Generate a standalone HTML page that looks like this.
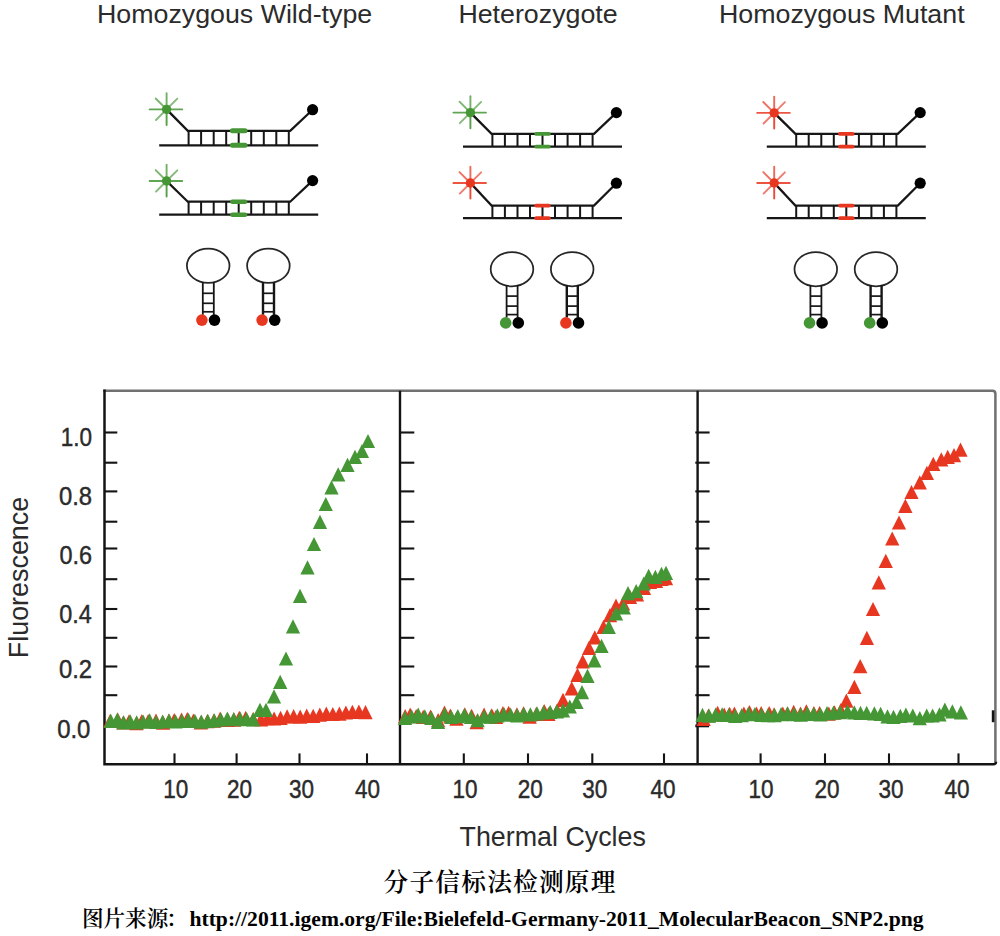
<!DOCTYPE html>
<html lang="zh">
<head>
<meta charset="utf-8">
<title>分子信标法检测原理</title>
<style>
html,body{margin:0;padding:0;background:#fff;}
body{width:1000px;height:936px;overflow:hidden;position:relative;}
svg{position:absolute;left:0;top:0;display:block;}
text{white-space:pre;}
</style>
</head>
<body>
<svg width="1000" height="936" viewBox="0 0 1000 936">
<rect width="1000" height="936" fill="#fff"/>
<g id="diagrams">
<line x1="166.6" y1="109.4" x2="182.2" y2="109.4" stroke="#459634" stroke-width="1.9" stroke-linecap="round" opacity="0.85"/>
<line x1="166.6" y1="109.4" x2="149.6" y2="109.4" stroke="#459634" stroke-width="1.9" stroke-linecap="round" opacity="0.85"/>
<line x1="166.6" y1="109.4" x2="166.6" y2="93.1" stroke="#459634" stroke-width="1.9" stroke-linecap="round" opacity="0.75"/>
<line x1="166.6" y1="109.4" x2="166.6" y2="125.0" stroke="#459634" stroke-width="1.9" stroke-linecap="round" opacity="0.9"/>
<line x1="166.6" y1="109.4" x2="177.3" y2="98.7" stroke="#459634" stroke-width="1.9" stroke-linecap="round" opacity="0.65"/>
<line x1="166.6" y1="109.4" x2="155.7" y2="98.5" stroke="#459634" stroke-width="1.9" stroke-linecap="round" opacity="0.7"/>
<line x1="166.6" y1="109.4" x2="156.0" y2="120.0" stroke="#459634" stroke-width="1.9" stroke-linecap="round" opacity="0.65"/>
<line x1="166.6" y1="109.4" x2="176.5" y2="119.3" stroke="#459634" stroke-width="1.9" stroke-linecap="round" opacity="0.65"/>
<line x1="159.2" y1="145.3" x2="318.2" y2="145.3" stroke="#161616" stroke-width="2.2"/>
<polyline points="166.6,109.4 187.8,130.8 290.2,130.8 312.6,109.7" fill="none" stroke="#161616" stroke-width="2.25" stroke-linejoin="miter"/>
<line x1="188.6" y1="130.8" x2="188.6" y2="145.3" stroke="#161616" stroke-width="2.0"/>
<line x1="201.1" y1="130.8" x2="201.1" y2="145.3" stroke="#161616" stroke-width="2.0"/>
<line x1="213.7" y1="130.8" x2="213.7" y2="145.3" stroke="#161616" stroke-width="2.0"/>
<line x1="226.2" y1="130.8" x2="226.2" y2="145.3" stroke="#161616" stroke-width="2.0"/>
<line x1="238.7" y1="130.8" x2="238.7" y2="145.3" stroke="#161616" stroke-width="2.0"/>
<line x1="251.2" y1="130.8" x2="251.2" y2="145.3" stroke="#161616" stroke-width="2.0"/>
<line x1="263.8" y1="130.8" x2="263.8" y2="145.3" stroke="#161616" stroke-width="2.0"/>
<line x1="276.3" y1="130.8" x2="276.3" y2="145.3" stroke="#161616" stroke-width="2.0"/>
<line x1="288.8" y1="130.8" x2="288.8" y2="145.3" stroke="#161616" stroke-width="2.0"/>
<line x1="232.4" y1="130.8" x2="245.0" y2="130.8" stroke="#459634" stroke-width="5.0" stroke-linecap="round"/>
<line x1="232.4" y1="145.3" x2="245.0" y2="145.3" stroke="#459634" stroke-width="5.0" stroke-linecap="round"/>
<circle cx="166.6" cy="109.4" r="4.7" fill="#459634"/>
<circle cx="312.6" cy="109.7" r="5.6" fill="#000"/>
<line x1="166.6" y1="181.0" x2="182.2" y2="181.0" stroke="#459634" stroke-width="1.9" stroke-linecap="round" opacity="0.85"/>
<line x1="166.6" y1="181.0" x2="149.6" y2="181.0" stroke="#459634" stroke-width="1.9" stroke-linecap="round" opacity="0.85"/>
<line x1="166.6" y1="181.0" x2="166.6" y2="164.7" stroke="#459634" stroke-width="1.9" stroke-linecap="round" opacity="0.75"/>
<line x1="166.6" y1="181.0" x2="166.6" y2="196.6" stroke="#459634" stroke-width="1.9" stroke-linecap="round" opacity="0.9"/>
<line x1="166.6" y1="181.0" x2="177.3" y2="170.3" stroke="#459634" stroke-width="1.9" stroke-linecap="round" opacity="0.65"/>
<line x1="166.6" y1="181.0" x2="155.7" y2="170.1" stroke="#459634" stroke-width="1.9" stroke-linecap="round" opacity="0.7"/>
<line x1="166.6" y1="181.0" x2="156.0" y2="191.6" stroke="#459634" stroke-width="1.9" stroke-linecap="round" opacity="0.65"/>
<line x1="166.6" y1="181.0" x2="176.5" y2="190.9" stroke="#459634" stroke-width="1.9" stroke-linecap="round" opacity="0.65"/>
<line x1="159.2" y1="214.7" x2="318.2" y2="214.7" stroke="#161616" stroke-width="2.2"/>
<polyline points="166.6,181.0 187.8,201.7 290.2,201.7 312.6,180.6" fill="none" stroke="#161616" stroke-width="2.25" stroke-linejoin="miter"/>
<line x1="188.6" y1="201.7" x2="188.6" y2="214.7" stroke="#161616" stroke-width="2.0"/>
<line x1="201.1" y1="201.7" x2="201.1" y2="214.7" stroke="#161616" stroke-width="2.0"/>
<line x1="213.7" y1="201.7" x2="213.7" y2="214.7" stroke="#161616" stroke-width="2.0"/>
<line x1="226.2" y1="201.7" x2="226.2" y2="214.7" stroke="#161616" stroke-width="2.0"/>
<line x1="238.7" y1="201.7" x2="238.7" y2="214.7" stroke="#161616" stroke-width="2.0"/>
<line x1="251.2" y1="201.7" x2="251.2" y2="214.7" stroke="#161616" stroke-width="2.0"/>
<line x1="263.8" y1="201.7" x2="263.8" y2="214.7" stroke="#161616" stroke-width="2.0"/>
<line x1="276.3" y1="201.7" x2="276.3" y2="214.7" stroke="#161616" stroke-width="2.0"/>
<line x1="288.8" y1="201.7" x2="288.8" y2="214.7" stroke="#161616" stroke-width="2.0"/>
<line x1="232.4" y1="201.7" x2="245.0" y2="201.7" stroke="#459634" stroke-width="4.6" stroke-linecap="round"/>
<line x1="232.4" y1="214.7" x2="245.0" y2="214.7" stroke="#459634" stroke-width="4.6" stroke-linecap="round"/>
<circle cx="166.6" cy="181.0" r="4.7" fill="#459634"/>
<circle cx="312.6" cy="180.6" r="5.6" fill="#000"/>
<ellipse cx="208.2" cy="265.8" rx="21.3" ry="17.1" fill="none" stroke="#262626" stroke-width="1.75"/>
<line x1="202.8" y1="282.3" x2="202.8" y2="314.8" stroke="#161616" stroke-width="1.8"/>
<line x1="213.8" y1="282.3" x2="213.8" y2="314.8" stroke="#161616" stroke-width="1.8"/>
<line x1="202.8" y1="293.3" x2="213.8" y2="293.3" stroke="#161616" stroke-width="1.7"/>
<line x1="202.8" y1="303.3" x2="213.8" y2="303.3" stroke="#161616" stroke-width="1.7"/>
<line x1="202.8" y1="311.8" x2="213.8" y2="311.8" stroke="#161616" stroke-width="1.7"/>
<circle cx="201.9" cy="320.1" r="5.8" fill="#e83721"/>
<circle cx="214.5" cy="320.1" r="5.8" fill="#000"/>
<ellipse cx="268.4" cy="265.8" rx="21.3" ry="17.1" fill="none" stroke="#262626" stroke-width="1.75"/>
<line x1="263.0" y1="282.3" x2="263.0" y2="314.8" stroke="#161616" stroke-width="2.4"/>
<line x1="274.0" y1="282.3" x2="274.0" y2="314.8" stroke="#161616" stroke-width="2.4"/>
<line x1="263.0" y1="293.3" x2="274.0" y2="293.3" stroke="#161616" stroke-width="1.7"/>
<line x1="263.0" y1="303.3" x2="274.0" y2="303.3" stroke="#161616" stroke-width="1.7"/>
<line x1="263.0" y1="311.8" x2="274.0" y2="311.8" stroke="#161616" stroke-width="1.7"/>
<circle cx="262.1" cy="320.1" r="5.8" fill="#e83721"/>
<circle cx="274.7" cy="320.1" r="5.8" fill="#000"/>
<line x1="470.4" y1="112.6" x2="486.0" y2="112.6" stroke="#459634" stroke-width="1.9" stroke-linecap="round" opacity="0.85"/>
<line x1="470.4" y1="112.6" x2="453.4" y2="112.6" stroke="#459634" stroke-width="1.9" stroke-linecap="round" opacity="0.85"/>
<line x1="470.4" y1="112.6" x2="470.4" y2="96.3" stroke="#459634" stroke-width="1.9" stroke-linecap="round" opacity="0.75"/>
<line x1="470.4" y1="112.6" x2="470.4" y2="128.2" stroke="#459634" stroke-width="1.9" stroke-linecap="round" opacity="0.9"/>
<line x1="470.4" y1="112.6" x2="481.1" y2="101.9" stroke="#459634" stroke-width="1.9" stroke-linecap="round" opacity="0.65"/>
<line x1="470.4" y1="112.6" x2="459.5" y2="101.7" stroke="#459634" stroke-width="1.9" stroke-linecap="round" opacity="0.7"/>
<line x1="470.4" y1="112.6" x2="459.8" y2="123.2" stroke="#459634" stroke-width="1.9" stroke-linecap="round" opacity="0.65"/>
<line x1="470.4" y1="112.6" x2="480.3" y2="122.5" stroke="#459634" stroke-width="1.9" stroke-linecap="round" opacity="0.65"/>
<line x1="463.0" y1="146.7" x2="622.0" y2="146.7" stroke="#161616" stroke-width="2.2"/>
<polyline points="470.4,112.6 491.6,133.9 594.0,133.9 616.4,112.6" fill="none" stroke="#161616" stroke-width="2.25" stroke-linejoin="miter"/>
<line x1="492.4" y1="133.9" x2="492.4" y2="146.7" stroke="#161616" stroke-width="2.0"/>
<line x1="504.9" y1="133.9" x2="504.9" y2="146.7" stroke="#161616" stroke-width="2.0"/>
<line x1="517.5" y1="133.9" x2="517.5" y2="146.7" stroke="#161616" stroke-width="2.0"/>
<line x1="530.0" y1="133.9" x2="530.0" y2="146.7" stroke="#161616" stroke-width="2.0"/>
<line x1="542.5" y1="133.9" x2="542.5" y2="146.7" stroke="#161616" stroke-width="2.0"/>
<line x1="555.0" y1="133.9" x2="555.0" y2="146.7" stroke="#161616" stroke-width="2.0"/>
<line x1="567.6" y1="133.9" x2="567.6" y2="146.7" stroke="#161616" stroke-width="2.0"/>
<line x1="580.1" y1="133.9" x2="580.1" y2="146.7" stroke="#161616" stroke-width="2.0"/>
<line x1="592.6" y1="133.9" x2="592.6" y2="146.7" stroke="#161616" stroke-width="2.0"/>
<line x1="536.2" y1="133.9" x2="548.8" y2="133.9" stroke="#459634" stroke-width="3.8" stroke-linecap="round"/>
<line x1="536.2" y1="146.7" x2="548.8" y2="146.7" stroke="#459634" stroke-width="3.8" stroke-linecap="round"/>
<circle cx="470.4" cy="112.6" r="4.7" fill="#459634"/>
<circle cx="616.4" cy="112.6" r="5.6" fill="#000"/>
<line x1="470.4" y1="183.0" x2="486.0" y2="183.0" stroke="#e83721" stroke-width="1.9" stroke-linecap="round" opacity="0.85"/>
<line x1="470.4" y1="183.0" x2="453.4" y2="183.0" stroke="#e83721" stroke-width="1.9" stroke-linecap="round" opacity="0.85"/>
<line x1="470.4" y1="183.0" x2="470.4" y2="166.7" stroke="#e83721" stroke-width="1.9" stroke-linecap="round" opacity="0.75"/>
<line x1="470.4" y1="183.0" x2="470.4" y2="198.6" stroke="#e83721" stroke-width="1.9" stroke-linecap="round" opacity="0.9"/>
<line x1="470.4" y1="183.0" x2="481.1" y2="172.3" stroke="#e83721" stroke-width="1.9" stroke-linecap="round" opacity="0.65"/>
<line x1="470.4" y1="183.0" x2="459.5" y2="172.1" stroke="#e83721" stroke-width="1.9" stroke-linecap="round" opacity="0.7"/>
<line x1="470.4" y1="183.0" x2="459.8" y2="193.6" stroke="#e83721" stroke-width="1.9" stroke-linecap="round" opacity="0.65"/>
<line x1="470.4" y1="183.0" x2="480.3" y2="192.9" stroke="#e83721" stroke-width="1.9" stroke-linecap="round" opacity="0.65"/>
<line x1="463.0" y1="218.2" x2="622.0" y2="218.2" stroke="#161616" stroke-width="2.2"/>
<polyline points="470.4,183.0 491.6,205.6 594.0,205.6 616.4,183.2" fill="none" stroke="#161616" stroke-width="2.25" stroke-linejoin="miter"/>
<line x1="492.4" y1="205.6" x2="492.4" y2="218.2" stroke="#161616" stroke-width="2.0"/>
<line x1="504.9" y1="205.6" x2="504.9" y2="218.2" stroke="#161616" stroke-width="2.0"/>
<line x1="517.5" y1="205.6" x2="517.5" y2="218.2" stroke="#161616" stroke-width="2.0"/>
<line x1="530.0" y1="205.6" x2="530.0" y2="218.2" stroke="#161616" stroke-width="2.0"/>
<line x1="542.5" y1="205.6" x2="542.5" y2="218.2" stroke="#161616" stroke-width="2.0"/>
<line x1="555.0" y1="205.6" x2="555.0" y2="218.2" stroke="#161616" stroke-width="2.0"/>
<line x1="567.6" y1="205.6" x2="567.6" y2="218.2" stroke="#161616" stroke-width="2.0"/>
<line x1="580.1" y1="205.6" x2="580.1" y2="218.2" stroke="#161616" stroke-width="2.0"/>
<line x1="592.6" y1="205.6" x2="592.6" y2="218.2" stroke="#161616" stroke-width="2.0"/>
<line x1="536.2" y1="205.6" x2="548.8" y2="205.6" stroke="#e83721" stroke-width="3.8" stroke-linecap="round"/>
<line x1="536.2" y1="218.2" x2="548.8" y2="218.2" stroke="#e83721" stroke-width="3.8" stroke-linecap="round"/>
<circle cx="470.4" cy="183.0" r="4.7" fill="#e83721"/>
<circle cx="616.4" cy="183.2" r="5.6" fill="#000"/>
<ellipse cx="512.0" cy="269.2" rx="21.3" ry="17.1" fill="none" stroke="#262626" stroke-width="1.75"/>
<line x1="506.6" y1="285.1" x2="506.6" y2="317.6" stroke="#161616" stroke-width="1.8"/>
<line x1="517.6" y1="285.1" x2="517.6" y2="317.6" stroke="#161616" stroke-width="1.8"/>
<line x1="506.6" y1="296.1" x2="517.6" y2="296.1" stroke="#161616" stroke-width="1.7"/>
<line x1="506.6" y1="306.1" x2="517.6" y2="306.1" stroke="#161616" stroke-width="1.7"/>
<line x1="506.6" y1="314.6" x2="517.6" y2="314.6" stroke="#161616" stroke-width="1.7"/>
<circle cx="505.7" cy="322.9" r="5.8" fill="#459634"/>
<circle cx="518.3" cy="322.9" r="5.8" fill="#000"/>
<ellipse cx="572.2" cy="269.2" rx="21.3" ry="17.1" fill="none" stroke="#262626" stroke-width="1.75"/>
<line x1="566.8" y1="285.1" x2="566.8" y2="317.6" stroke="#161616" stroke-width="2.4"/>
<line x1="577.8" y1="285.1" x2="577.8" y2="317.6" stroke="#161616" stroke-width="2.4"/>
<line x1="566.8" y1="296.1" x2="577.8" y2="296.1" stroke="#161616" stroke-width="1.7"/>
<line x1="566.8" y1="306.1" x2="577.8" y2="306.1" stroke="#161616" stroke-width="1.7"/>
<line x1="566.8" y1="314.6" x2="577.8" y2="314.6" stroke="#161616" stroke-width="1.7"/>
<circle cx="565.9" cy="322.9" r="5.8" fill="#e83721"/>
<circle cx="578.5" cy="322.9" r="5.8" fill="#000"/>
<line x1="774.2" y1="112.9" x2="789.8" y2="112.9" stroke="#e83721" stroke-width="1.9" stroke-linecap="round" opacity="0.85"/>
<line x1="774.2" y1="112.9" x2="757.2" y2="112.9" stroke="#e83721" stroke-width="1.9" stroke-linecap="round" opacity="0.85"/>
<line x1="774.2" y1="112.9" x2="774.2" y2="96.6" stroke="#e83721" stroke-width="1.9" stroke-linecap="round" opacity="0.75"/>
<line x1="774.2" y1="112.9" x2="774.2" y2="128.5" stroke="#e83721" stroke-width="1.9" stroke-linecap="round" opacity="0.9"/>
<line x1="774.2" y1="112.9" x2="784.9" y2="102.2" stroke="#e83721" stroke-width="1.9" stroke-linecap="round" opacity="0.65"/>
<line x1="774.2" y1="112.9" x2="763.3" y2="102.0" stroke="#e83721" stroke-width="1.9" stroke-linecap="round" opacity="0.7"/>
<line x1="774.2" y1="112.9" x2="763.6" y2="123.5" stroke="#e83721" stroke-width="1.9" stroke-linecap="round" opacity="0.65"/>
<line x1="774.2" y1="112.9" x2="784.1" y2="122.8" stroke="#e83721" stroke-width="1.9" stroke-linecap="round" opacity="0.65"/>
<line x1="766.8" y1="146.7" x2="925.8" y2="146.7" stroke="#161616" stroke-width="2.2"/>
<polyline points="774.2,112.9 795.4,133.9 897.8,133.9 920.2,112.6" fill="none" stroke="#161616" stroke-width="2.25" stroke-linejoin="miter"/>
<line x1="796.2" y1="133.9" x2="796.2" y2="146.7" stroke="#161616" stroke-width="2.0"/>
<line x1="808.7" y1="133.9" x2="808.7" y2="146.7" stroke="#161616" stroke-width="2.0"/>
<line x1="821.3" y1="133.9" x2="821.3" y2="146.7" stroke="#161616" stroke-width="2.0"/>
<line x1="833.8" y1="133.9" x2="833.8" y2="146.7" stroke="#161616" stroke-width="2.0"/>
<line x1="846.3" y1="133.9" x2="846.3" y2="146.7" stroke="#161616" stroke-width="2.0"/>
<line x1="858.9" y1="133.9" x2="858.9" y2="146.7" stroke="#161616" stroke-width="2.0"/>
<line x1="871.4" y1="133.9" x2="871.4" y2="146.7" stroke="#161616" stroke-width="2.0"/>
<line x1="883.9" y1="133.9" x2="883.9" y2="146.7" stroke="#161616" stroke-width="2.0"/>
<line x1="896.4" y1="133.9" x2="896.4" y2="146.7" stroke="#161616" stroke-width="2.0"/>
<line x1="840.0" y1="133.9" x2="852.6" y2="133.9" stroke="#e83721" stroke-width="3.8" stroke-linecap="round"/>
<line x1="840.0" y1="146.7" x2="852.6" y2="146.7" stroke="#e83721" stroke-width="3.8" stroke-linecap="round"/>
<circle cx="774.2" cy="112.9" r="4.7" fill="#e83721"/>
<circle cx="920.2" cy="112.6" r="5.6" fill="#000"/>
<line x1="774.2" y1="183.0" x2="789.8" y2="183.0" stroke="#e83721" stroke-width="1.9" stroke-linecap="round" opacity="0.85"/>
<line x1="774.2" y1="183.0" x2="757.2" y2="183.0" stroke="#e83721" stroke-width="1.9" stroke-linecap="round" opacity="0.85"/>
<line x1="774.2" y1="183.0" x2="774.2" y2="166.7" stroke="#e83721" stroke-width="1.9" stroke-linecap="round" opacity="0.75"/>
<line x1="774.2" y1="183.0" x2="774.2" y2="198.6" stroke="#e83721" stroke-width="1.9" stroke-linecap="round" opacity="0.9"/>
<line x1="774.2" y1="183.0" x2="784.9" y2="172.3" stroke="#e83721" stroke-width="1.9" stroke-linecap="round" opacity="0.65"/>
<line x1="774.2" y1="183.0" x2="763.3" y2="172.1" stroke="#e83721" stroke-width="1.9" stroke-linecap="round" opacity="0.7"/>
<line x1="774.2" y1="183.0" x2="763.6" y2="193.6" stroke="#e83721" stroke-width="1.9" stroke-linecap="round" opacity="0.65"/>
<line x1="774.2" y1="183.0" x2="784.1" y2="192.9" stroke="#e83721" stroke-width="1.9" stroke-linecap="round" opacity="0.65"/>
<line x1="766.8" y1="218.2" x2="925.8" y2="218.2" stroke="#161616" stroke-width="2.2"/>
<polyline points="774.2,183.0 795.4,205.6 897.8,205.6 920.2,183.2" fill="none" stroke="#161616" stroke-width="2.25" stroke-linejoin="miter"/>
<line x1="796.2" y1="205.6" x2="796.2" y2="218.2" stroke="#161616" stroke-width="2.0"/>
<line x1="808.7" y1="205.6" x2="808.7" y2="218.2" stroke="#161616" stroke-width="2.0"/>
<line x1="821.3" y1="205.6" x2="821.3" y2="218.2" stroke="#161616" stroke-width="2.0"/>
<line x1="833.8" y1="205.6" x2="833.8" y2="218.2" stroke="#161616" stroke-width="2.0"/>
<line x1="846.3" y1="205.6" x2="846.3" y2="218.2" stroke="#161616" stroke-width="2.0"/>
<line x1="858.9" y1="205.6" x2="858.9" y2="218.2" stroke="#161616" stroke-width="2.0"/>
<line x1="871.4" y1="205.6" x2="871.4" y2="218.2" stroke="#161616" stroke-width="2.0"/>
<line x1="883.9" y1="205.6" x2="883.9" y2="218.2" stroke="#161616" stroke-width="2.0"/>
<line x1="896.4" y1="205.6" x2="896.4" y2="218.2" stroke="#161616" stroke-width="2.0"/>
<line x1="840.0" y1="205.6" x2="852.6" y2="205.6" stroke="#e83721" stroke-width="3.8" stroke-linecap="round"/>
<line x1="840.0" y1="218.2" x2="852.6" y2="218.2" stroke="#e83721" stroke-width="3.8" stroke-linecap="round"/>
<circle cx="774.2" cy="183.0" r="4.7" fill="#e83721"/>
<circle cx="920.2" cy="183.2" r="5.6" fill="#000"/>
<ellipse cx="815.8" cy="269.2" rx="21.3" ry="17.1" fill="none" stroke="#262626" stroke-width="1.75"/>
<line x1="810.4" y1="285.1" x2="810.4" y2="317.6" stroke="#161616" stroke-width="1.8"/>
<line x1="821.4" y1="285.1" x2="821.4" y2="317.6" stroke="#161616" stroke-width="1.8"/>
<line x1="810.4" y1="296.1" x2="821.4" y2="296.1" stroke="#161616" stroke-width="1.7"/>
<line x1="810.4" y1="306.1" x2="821.4" y2="306.1" stroke="#161616" stroke-width="1.7"/>
<line x1="810.4" y1="314.6" x2="821.4" y2="314.6" stroke="#161616" stroke-width="1.7"/>
<circle cx="809.5" cy="322.9" r="5.8" fill="#459634"/>
<circle cx="822.1" cy="322.9" r="5.8" fill="#000"/>
<ellipse cx="876.0" cy="269.2" rx="21.3" ry="17.1" fill="none" stroke="#262626" stroke-width="1.75"/>
<line x1="870.6" y1="285.1" x2="870.6" y2="317.6" stroke="#161616" stroke-width="2.4"/>
<line x1="881.6" y1="285.1" x2="881.6" y2="317.6" stroke="#161616" stroke-width="2.4"/>
<line x1="870.6" y1="296.1" x2="881.6" y2="296.1" stroke="#161616" stroke-width="1.7"/>
<line x1="870.6" y1="306.1" x2="881.6" y2="306.1" stroke="#161616" stroke-width="1.7"/>
<line x1="870.6" y1="314.6" x2="881.6" y2="314.6" stroke="#161616" stroke-width="1.7"/>
<circle cx="869.7" cy="322.9" r="5.8" fill="#459634"/>
<circle cx="882.3" cy="322.9" r="5.8" fill="#000"/>
</g>
<g id="frame" fill="none">
<path d="M103.3,390.7 H992.4 Q995.4,390.7 995.4,393.7 V762.2" stroke="#707070" stroke-width="2.5"/>
<path d="M104.5,389.5 V764.2 H993.4 Q996.0,764.2 996.0,761.7" stroke="#141414" stroke-width="2.5"/>
<line x1="400" y1="390.7" x2="400" y2="764.2" stroke="#141414" stroke-width="2.4"/>
<line x1="697.6" y1="390.7" x2="697.6" y2="764.2" stroke="#141414" stroke-width="2.4"/>
<line x1="104.5" y1="432.5" x2="117.3" y2="432.5" stroke="#141414" stroke-width="2.1"/>
<line x1="104.5" y1="462.7" x2="117.3" y2="462.7" stroke="#141414" stroke-width="2.1"/>
<line x1="104.5" y1="491.4" x2="117.3" y2="491.4" stroke="#141414" stroke-width="2.1"/>
<line x1="104.5" y1="521.7" x2="117.3" y2="521.7" stroke="#141414" stroke-width="2.1"/>
<line x1="104.5" y1="548.5" x2="117.3" y2="548.5" stroke="#141414" stroke-width="2.1"/>
<line x1="104.5" y1="579.2" x2="117.3" y2="579.2" stroke="#141414" stroke-width="2.1"/>
<line x1="104.5" y1="609.0" x2="117.3" y2="609.0" stroke="#141414" stroke-width="2.1"/>
<line x1="104.5" y1="637.8" x2="117.3" y2="637.8" stroke="#141414" stroke-width="2.1"/>
<line x1="104.5" y1="666.5" x2="117.3" y2="666.5" stroke="#141414" stroke-width="2.1"/>
<line x1="104.5" y1="695.2" x2="117.3" y2="695.2" stroke="#141414" stroke-width="2.1"/>
<line x1="400" y1="432.5" x2="414.3" y2="432.5" stroke="#141414" stroke-width="2.1"/>
<line x1="400" y1="462.7" x2="414.3" y2="462.7" stroke="#141414" stroke-width="2.1"/>
<line x1="400" y1="491.4" x2="414.3" y2="491.4" stroke="#141414" stroke-width="2.1"/>
<line x1="400" y1="521.7" x2="414.3" y2="521.7" stroke="#141414" stroke-width="2.1"/>
<line x1="400" y1="548.5" x2="414.3" y2="548.5" stroke="#141414" stroke-width="2.1"/>
<line x1="400" y1="579.2" x2="414.3" y2="579.2" stroke="#141414" stroke-width="2.1"/>
<line x1="400" y1="609.0" x2="414.3" y2="609.0" stroke="#141414" stroke-width="2.1"/>
<line x1="400" y1="637.8" x2="414.3" y2="637.8" stroke="#141414" stroke-width="2.1"/>
<line x1="400" y1="666.5" x2="414.3" y2="666.5" stroke="#141414" stroke-width="2.1"/>
<line x1="400" y1="695.2" x2="414.3" y2="695.2" stroke="#141414" stroke-width="2.1"/>
<line x1="695.3000000000001" y1="432.5" x2="709.6" y2="432.5" stroke="#141414" stroke-width="2.1"/>
<line x1="695.3000000000001" y1="462.7" x2="709.6" y2="462.7" stroke="#141414" stroke-width="2.1"/>
<line x1="695.3000000000001" y1="491.4" x2="709.6" y2="491.4" stroke="#141414" stroke-width="2.1"/>
<line x1="695.3000000000001" y1="521.7" x2="709.6" y2="521.7" stroke="#141414" stroke-width="2.1"/>
<line x1="695.3000000000001" y1="548.5" x2="709.6" y2="548.5" stroke="#141414" stroke-width="2.1"/>
<line x1="695.3000000000001" y1="579.2" x2="709.6" y2="579.2" stroke="#141414" stroke-width="2.1"/>
<line x1="695.3000000000001" y1="609.0" x2="709.6" y2="609.0" stroke="#141414" stroke-width="2.1"/>
<line x1="695.3000000000001" y1="637.8" x2="709.6" y2="637.8" stroke="#141414" stroke-width="2.1"/>
<line x1="695.3000000000001" y1="666.5" x2="709.6" y2="666.5" stroke="#141414" stroke-width="2.1"/>
<line x1="695.3000000000001" y1="695.2" x2="709.6" y2="695.2" stroke="#141414" stroke-width="2.1"/>
<line x1="695.3000000000001" y1="725.9" x2="709.1" y2="725.9" stroke="#141414" stroke-width="2.8"/>
<line x1="993.1" y1="710.3" x2="993.1" y2="722.2" stroke="#141414" stroke-width="2.6"/>
<line x1="174.5" y1="753.4000000000001" x2="174.5" y2="764.2" stroke="#141414" stroke-width="2.1"/>
<line x1="236.6" y1="753.4000000000001" x2="236.6" y2="764.2" stroke="#141414" stroke-width="2.1"/>
<line x1="299.5" y1="753.4000000000001" x2="299.5" y2="764.2" stroke="#141414" stroke-width="2.1"/>
<line x1="367.0" y1="753.4000000000001" x2="367.0" y2="764.2" stroke="#141414" stroke-width="2.1"/>
<line x1="463.8" y1="753.4000000000001" x2="463.8" y2="764.2" stroke="#141414" stroke-width="2.1"/>
<line x1="528.0" y1="753.4000000000001" x2="528.0" y2="764.2" stroke="#141414" stroke-width="2.1"/>
<line x1="592.3" y1="753.4000000000001" x2="592.3" y2="764.2" stroke="#141414" stroke-width="2.1"/>
<line x1="664.0" y1="753.4000000000001" x2="664.0" y2="764.2" stroke="#141414" stroke-width="2.1"/>
<line x1="760.6" y1="753.4000000000001" x2="760.6" y2="764.2" stroke="#141414" stroke-width="2.1"/>
<line x1="825.0" y1="753.4000000000001" x2="825.0" y2="764.2" stroke="#141414" stroke-width="2.1"/>
<line x1="889.0" y1="753.4000000000001" x2="889.0" y2="764.2" stroke="#141414" stroke-width="2.1"/>
<line x1="958.5" y1="753.4000000000001" x2="958.5" y2="764.2" stroke="#141414" stroke-width="2.1"/>
</g>
<g id="data">
<polygon points="110.2,713.8 117.3,728.0 103.0,728.0" fill="#e83721"/>
<polygon points="117.7,712.4 124.9,726.6 110.6,726.6" fill="#e83721"/>
<polygon points="123.3,715.4 130.4,729.6 116.1,729.6" fill="#e83721"/>
<polygon points="129.0,714.3 136.2,728.5 121.9,728.5" fill="#e83721"/>
<polygon points="136.5,716.0 143.6,730.2 129.3,730.2" fill="#e83721"/>
<polygon points="141.8,714.0 148.9,728.2 134.6,728.2" fill="#e83721"/>
<polygon points="148.2,713.9 155.4,728.1 141.1,728.1" fill="#e83721"/>
<polygon points="156.0,713.6 163.2,727.8 148.9,727.8" fill="#e83721"/>
<polygon points="163.1,715.5 170.3,729.7 156.0,729.7" fill="#e83721"/>
<polygon points="168.9,713.6 176.0,727.8 161.7,727.8" fill="#e83721"/>
<polygon points="174.2,712.9 181.4,727.1 167.1,727.1" fill="#e83721"/>
<polygon points="181.5,712.6 188.7,726.8 174.4,726.8" fill="#e83721"/>
<polygon points="187.3,711.9 194.4,726.1 180.1,726.1" fill="#e83721"/>
<polygon points="193.4,713.5 200.5,727.7 186.2,727.7" fill="#e83721"/>
<polygon points="200.7,715.4 207.9,729.6 193.6,729.6" fill="#e83721"/>
<polygon points="207.4,714.0 214.5,728.2 200.2,728.2" fill="#e83721"/>
<polygon points="213.8,713.5 221.0,727.7 206.7,727.7" fill="#e83721"/>
<polygon points="220.2,711.6 227.3,725.8 213.0,725.8" fill="#e83721"/>
<polygon points="227.9,712.8 235.0,727.0 220.7,727.0" fill="#e83721"/>
<polygon points="234.0,712.5 241.1,726.7 226.8,726.7" fill="#e83721"/>
<polygon points="239.3,710.7 246.4,724.9 232.1,724.9" fill="#e83721"/>
<polygon points="245.7,710.8 252.9,725.0 238.6,725.0" fill="#e83721"/>
<polygon points="253.2,711.9 260.4,726.1 246.1,726.1" fill="#e83721"/>
<polygon points="261.0,712.2 268.1,726.4 253.8,726.4" fill="#e83721"/>
<polygon points="267.5,711.1 274.7,725.3 260.4,725.3" fill="#e83721"/>
<polygon points="274.1,711.4 281.2,725.6 266.9,725.6" fill="#e83721"/>
<polygon points="280.6,710.8 287.7,725.0 273.4,725.0" fill="#e83721"/>
<polygon points="287.1,709.2 294.3,723.4 280.0,723.4" fill="#e83721"/>
<polygon points="293.6,709.0 300.8,723.2 286.5,723.2" fill="#e83721"/>
<polygon points="300.2,709.5 307.3,723.7 293.0,723.7" fill="#e83721"/>
<polygon points="306.7,708.5 313.9,722.7 299.6,722.7" fill="#e83721"/>
<polygon points="313.2,708.7 320.4,722.9 306.1,722.9" fill="#e83721"/>
<polygon points="319.8,707.5 326.9,721.7 312.6,721.7" fill="#e83721"/>
<polygon points="326.3,706.5 333.4,720.7 319.2,720.7" fill="#e83721"/>
<polygon points="332.8,706.9 340.0,721.1 325.7,721.1" fill="#e83721"/>
<polygon points="339.4,706.6 346.5,720.8 332.2,720.8" fill="#e83721"/>
<polygon points="345.9,705.4 353.0,719.6 338.7,719.6" fill="#e83721"/>
<polygon points="352.4,704.7 359.6,718.9 345.3,718.9" fill="#e83721"/>
<polygon points="358.9,704.6 366.1,718.8 351.8,718.8" fill="#e83721"/>
<polygon points="365.5,705.0 372.6,719.2 358.3,719.2" fill="#e83721"/>
<polygon points="110.8,713.7 118.0,727.9 103.6,727.9" fill="#459634"/>
<polygon points="117.3,712.6 124.4,726.8 110.1,726.8" fill="#459634"/>
<polygon points="123.7,715.3 130.9,729.5 116.6,729.5" fill="#459634"/>
<polygon points="130.2,714.3 137.4,728.5 123.1,728.5" fill="#459634"/>
<polygon points="136.7,715.3 143.8,729.5 129.5,729.5" fill="#459634"/>
<polygon points="143.2,714.6 150.3,728.8 136.0,728.8" fill="#459634"/>
<polygon points="149.6,713.2 156.8,727.4 142.5,727.4" fill="#459634"/>
<polygon points="156.1,714.9 163.2,729.1 148.9,729.1" fill="#459634"/>
<polygon points="162.6,714.4 169.7,728.6 155.4,728.6" fill="#459634"/>
<polygon points="169.0,713.4 176.2,727.6 161.9,727.6" fill="#459634"/>
<polygon points="175.5,714.2 182.7,728.4 168.3,728.4" fill="#459634"/>
<polygon points="182.0,713.8 189.1,728.0 174.8,728.0" fill="#459634"/>
<polygon points="188.4,712.7 195.6,726.9 181.3,726.9" fill="#459634"/>
<polygon points="194.9,713.7 202.1,727.9 187.8,727.9" fill="#459634"/>
<polygon points="201.4,714.6 208.5,728.8 194.2,728.8" fill="#459634"/>
<polygon points="207.8,713.7 215.0,727.9 200.7,727.9" fill="#459634"/>
<polygon points="214.3,713.2 221.5,727.4 207.2,727.4" fill="#459634"/>
<polygon points="220.8,712.3 227.9,726.5 213.6,726.5" fill="#459634"/>
<polygon points="227.3,711.6 234.4,725.8 220.1,725.8" fill="#459634"/>
<polygon points="233.7,712.1 240.9,726.3 226.6,726.3" fill="#459634"/>
<polygon points="240.2,711.5 247.3,725.7 233.0,725.7" fill="#459634"/>
<polygon points="246.7,712.0 253.8,726.2 239.5,726.2" fill="#459634"/>
<polygon points="253.1,712.3 260.3,726.5 246.0,726.5" fill="#459634"/>
<polygon points="260.0,702.7 267.1,716.9 252.8,716.9" fill="#459634"/>
<polygon points="266.0,702.7 273.1,716.9 258.9,716.9" fill="#459634"/>
<polygon points="274.0,689.3 281.1,703.5 266.9,703.5" fill="#459634"/>
<polygon points="280.2,674.7 287.4,688.9 273.1,688.9" fill="#459634"/>
<polygon points="286.0,651.5 293.1,665.6 278.9,665.6" fill="#459634"/>
<polygon points="293.0,619.2 300.1,633.4 285.9,633.4" fill="#459634"/>
<polygon points="300.0,588.7 307.1,602.9 292.9,602.9" fill="#459634"/>
<polygon points="307.5,560.2 314.6,574.4 300.4,574.4" fill="#459634"/>
<polygon points="314.0,537.0 321.1,551.1 306.9,551.1" fill="#459634"/>
<polygon points="320.0,514.7 327.1,528.9 312.9,528.9" fill="#459634"/>
<polygon points="325.8,496.9 332.9,511.1 318.6,511.1" fill="#459634"/>
<polygon points="331.5,480.2 338.6,494.4 324.4,494.4" fill="#459634"/>
<polygon points="338.2,467.2 345.4,481.4 331.1,481.4" fill="#459634"/>
<polygon points="347.5,457.7 354.6,471.9 340.4,471.9" fill="#459634"/>
<polygon points="355.0,449.7 362.1,463.9 347.9,463.9" fill="#459634"/>
<polygon points="362.0,443.9 369.1,458.1 354.9,458.1" fill="#459634"/>
<polygon points="368.0,433.9 375.1,448.1 360.9,448.1" fill="#459634"/>
<polygon points="405.2,709.1 412.4,723.3 398.1,723.3" fill="#e83721"/>
<polygon points="410.2,707.5 417.3,721.7 403.0,721.7" fill="#e83721"/>
<polygon points="416.2,709.1 423.3,723.3 409.0,723.3" fill="#e83721"/>
<polygon points="423.2,709.7 430.3,723.9 416.0,723.9" fill="#e83721"/>
<polygon points="430.6,709.4 437.8,723.6 423.5,723.6" fill="#e83721"/>
<polygon points="438.1,713.1 445.3,727.3 431.0,727.3" fill="#e83721"/>
<polygon points="444.5,705.6 451.6,719.8 437.3,719.8" fill="#e83721"/>
<polygon points="450.3,708.5 457.5,722.7 443.2,722.7" fill="#e83721"/>
<polygon points="456.5,711.5 463.6,725.7 449.3,725.7" fill="#e83721"/>
<polygon points="464.8,707.2 471.9,721.4 457.6,721.4" fill="#e83721"/>
<polygon points="471.6,708.7 478.8,722.9 464.5,722.9" fill="#e83721"/>
<polygon points="476.7,715.0 483.8,729.2 469.5,729.2" fill="#e83721"/>
<polygon points="484.1,707.5 491.2,721.7 476.9,721.7" fill="#e83721"/>
<polygon points="491.8,708.3 498.9,722.5 484.6,722.5" fill="#e83721"/>
<polygon points="496.0,709.7 503.2,723.9 488.9,723.9" fill="#e83721"/>
<polygon points="502.9,706.1 510.0,720.3 495.7,720.3" fill="#e83721"/>
<polygon points="508.6,705.7 515.8,719.9 501.5,719.9" fill="#e83721"/>
<polygon points="516.9,707.2 524.0,721.4 509.7,721.4" fill="#e83721"/>
<polygon points="523.5,706.3 530.7,720.5 516.4,720.5" fill="#e83721"/>
<polygon points="529.7,709.6 536.8,723.8 522.5,723.8" fill="#e83721"/>
<polygon points="536.3,706.8 543.5,721.0 529.2,721.0" fill="#e83721"/>
<polygon points="544.2,703.9 551.3,718.1 537.0,718.1" fill="#e83721"/>
<polygon points="548.5,706.9 555.6,721.1 541.3,721.1" fill="#e83721"/>
<polygon points="557.2,703.2 564.4,717.4 550.1,717.4" fill="#e83721"/>
<polygon points="563.0,692.7 570.1,706.9 555.9,706.9" fill="#e83721"/>
<polygon points="571.7,681.2 578.9,695.4 564.6,695.4" fill="#e83721"/>
<polygon points="577.5,667.7 584.6,681.9 570.4,681.9" fill="#e83721"/>
<polygon points="582.7,654.2 589.9,668.4 575.6,668.4" fill="#e83721"/>
<polygon points="589.0,640.7 596.1,654.9 581.9,654.9" fill="#e83721"/>
<polygon points="594.8,630.2 601.9,644.4 587.6,644.4" fill="#e83721"/>
<polygon points="603.5,619.7 610.6,633.9 596.4,633.9" fill="#e83721"/>
<polygon points="610.0,608.1 617.1,622.3 602.9,622.3" fill="#e83721"/>
<polygon points="616.0,598.5 623.1,612.7 608.9,612.7" fill="#e83721"/>
<polygon points="623.0,596.2 630.1,610.4 615.9,610.4" fill="#e83721"/>
<polygon points="630.0,589.7 637.1,603.9 622.9,603.9" fill="#e83721"/>
<polygon points="637.0,587.2 644.1,601.4 629.9,601.4" fill="#e83721"/>
<polygon points="644.0,580.7 651.1,594.9 636.9,594.9" fill="#e83721"/>
<polygon points="650.0,574.7 657.1,588.9 642.9,588.9" fill="#e83721"/>
<polygon points="656.0,573.7 663.1,587.9 648.9,587.9" fill="#e83721"/>
<polygon points="661.5,571.7 668.6,585.9 654.4,585.9" fill="#e83721"/>
<polygon points="666.0,571.0 673.1,585.2 658.9,585.2" fill="#e83721"/>
<polygon points="405.0,710.7 412.1,724.9 397.9,724.9" fill="#459634"/>
<polygon points="411.6,709.2 418.8,723.4 404.5,723.4" fill="#459634"/>
<polygon points="418.2,707.5 425.3,721.7 411.1,721.7" fill="#459634"/>
<polygon points="424.8,709.2 431.9,723.4 417.7,723.4" fill="#459634"/>
<polygon points="431.4,710.7 438.5,724.9 424.2,724.9" fill="#459634"/>
<polygon points="438.0,714.7 445.1,728.9 430.9,728.9" fill="#459634"/>
<polygon points="444.6,707.2 451.8,721.4 437.5,721.4" fill="#459634"/>
<polygon points="451.2,709.7 458.3,723.9 444.1,723.9" fill="#459634"/>
<polygon points="457.8,709.0 464.9,723.2 450.7,723.2" fill="#459634"/>
<polygon points="464.4,707.9 471.5,722.1 457.2,722.1" fill="#459634"/>
<polygon points="471.0,709.9 478.1,724.1 463.9,724.1" fill="#459634"/>
<polygon points="477.6,713.1 484.8,727.3 470.5,727.3" fill="#459634"/>
<polygon points="484.2,709.2 491.3,723.4 477.1,723.4" fill="#459634"/>
<polygon points="490.8,709.5 497.9,723.7 483.7,723.7" fill="#459634"/>
<polygon points="497.4,708.2 504.5,722.4 490.2,722.4" fill="#459634"/>
<polygon points="504.0,706.9 511.1,721.1 496.9,721.1" fill="#459634"/>
<polygon points="510.6,707.5 517.8,721.7 503.5,721.7" fill="#459634"/>
<polygon points="517.2,708.2 524.4,722.4 510.1,722.4" fill="#459634"/>
<polygon points="523.8,706.7 530.9,720.9 516.6,720.9" fill="#459634"/>
<polygon points="530.4,707.2 537.5,721.4 523.2,721.4" fill="#459634"/>
<polygon points="537.0,706.2 544.1,720.4 529.9,720.4" fill="#459634"/>
<polygon points="543.6,705.2 550.8,719.4 536.5,719.4" fill="#459634"/>
<polygon points="550.2,704.7 557.4,718.9 543.1,718.9" fill="#459634"/>
<polygon points="556.8,704.2 563.9,718.4 549.6,718.4" fill="#459634"/>
<polygon points="563.0,703.3 570.1,717.5 555.9,717.5" fill="#459634"/>
<polygon points="569.8,699.4 576.9,713.6 562.6,713.6" fill="#459634"/>
<polygon points="576.5,694.7 583.6,708.9 569.4,708.9" fill="#459634"/>
<polygon points="582.0,685.0 589.1,699.2 574.9,699.2" fill="#459634"/>
<polygon points="587.5,668.7 594.6,682.9 580.4,682.9" fill="#459634"/>
<polygon points="594.4,653.3 601.5,667.5 587.2,667.5" fill="#459634"/>
<polygon points="601.5,638.7 608.6,652.9 594.4,652.9" fill="#459634"/>
<polygon points="608.8,619.7 615.9,633.9 601.6,633.9" fill="#459634"/>
<polygon points="616.0,606.2 623.1,620.4 608.9,620.4" fill="#459634"/>
<polygon points="623.7,600.4 630.9,614.6 616.6,614.6" fill="#459634"/>
<polygon points="628.0,586.0 635.1,600.2 620.9,600.2" fill="#459634"/>
<polygon points="636.2,584.0 643.4,598.2 629.1,598.2" fill="#459634"/>
<polygon points="643.8,576.4 650.9,590.6 636.6,590.6" fill="#459634"/>
<polygon points="648.7,568.7 655.9,582.9 641.6,582.9" fill="#459634"/>
<polygon points="655.4,569.7 662.5,583.9 648.2,583.9" fill="#459634"/>
<polygon points="661.5,566.7 668.6,580.9 654.4,580.9" fill="#459634"/>
<polygon points="666.0,565.7 673.1,579.9 658.9,579.9" fill="#459634"/>
<polygon points="703.6,711.9 710.8,726.1 696.5,726.1" fill="#e83721"/>
<polygon points="708.5,708.4 715.6,722.6 701.3,722.6" fill="#e83721"/>
<polygon points="717.6,705.7 724.7,719.9 710.4,719.9" fill="#e83721"/>
<polygon points="724.2,707.5 731.3,721.7 717.0,721.7" fill="#e83721"/>
<polygon points="729.6,706.8 736.7,721.0 722.4,721.0" fill="#e83721"/>
<polygon points="734.4,706.5 741.6,720.7 727.3,720.7" fill="#e83721"/>
<polygon points="743.9,706.4 751.0,720.6 736.7,720.6" fill="#e83721"/>
<polygon points="749.5,705.0 756.7,719.2 742.4,719.2" fill="#e83721"/>
<polygon points="756.5,706.5 763.7,720.7 749.4,720.7" fill="#e83721"/>
<polygon points="761.2,705.9 768.4,720.1 754.1,720.1" fill="#e83721"/>
<polygon points="769.2,705.9 776.4,720.1 762.1,720.1" fill="#e83721"/>
<polygon points="774.1,707.3 781.3,721.5 767.0,721.5" fill="#e83721"/>
<polygon points="782.8,706.5 789.9,720.7 775.6,720.7" fill="#e83721"/>
<polygon points="787.4,706.6 794.6,720.8 780.3,720.8" fill="#e83721"/>
<polygon points="793.7,704.7 800.8,718.9 786.5,718.9" fill="#e83721"/>
<polygon points="800.5,706.5 807.6,720.7 793.3,720.7" fill="#e83721"/>
<polygon points="806.3,704.3 813.5,718.5 799.2,718.5" fill="#e83721"/>
<polygon points="813.9,706.0 821.1,720.2 806.8,720.2" fill="#e83721"/>
<polygon points="819.6,705.9 826.8,720.1 812.5,720.1" fill="#e83721"/>
<polygon points="828.8,706.5 835.9,720.7 821.6,720.7" fill="#e83721"/>
<polygon points="834.5,705.3 841.7,719.5 827.4,719.5" fill="#e83721"/>
<polygon points="840.8,703.1 848.0,717.3 833.7,717.3" fill="#e83721"/>
<polygon points="846.4,693.5 853.5,707.7 839.2,707.7" fill="#e83721"/>
<polygon points="854.4,679.7 861.5,693.9 847.2,693.9" fill="#e83721"/>
<polygon points="860.2,659.1 867.4,673.3 853.1,673.3" fill="#e83721"/>
<polygon points="866.9,630.7 874.0,644.9 859.8,644.9" fill="#e83721"/>
<polygon points="873.0,601.9 880.1,616.1 865.9,616.1" fill="#e83721"/>
<polygon points="878.8,575.3 885.9,589.5 871.6,589.5" fill="#e83721"/>
<polygon points="885.8,553.7 892.9,567.9 878.6,567.9" fill="#e83721"/>
<polygon points="892.2,531.4 899.4,545.6 885.1,545.6" fill="#e83721"/>
<polygon points="899.0,515.4 906.1,529.6 891.9,529.6" fill="#e83721"/>
<polygon points="905.4,498.7 912.5,512.9 898.2,512.9" fill="#e83721"/>
<polygon points="911.5,484.9 918.6,499.1 904.4,499.1" fill="#e83721"/>
<polygon points="919.8,475.3 926.9,489.5 912.6,489.5" fill="#e83721"/>
<polygon points="926.9,465.7 934.0,479.9 919.8,479.9" fill="#e83721"/>
<polygon points="933.3,456.7 940.4,470.9 926.1,470.9" fill="#e83721"/>
<polygon points="941.3,452.2 948.4,466.4 934.1,466.4" fill="#e83721"/>
<polygon points="947.7,449.7 954.9,463.9 940.6,463.9" fill="#e83721"/>
<polygon points="954.0,448.0 961.1,462.2 946.9,462.2" fill="#e83721"/>
<polygon points="960.5,442.6 967.6,456.8 953.4,456.8" fill="#e83721"/>
<polygon points="702.5,707.7 709.6,721.9 695.4,721.9" fill="#459634"/>
<polygon points="709.0,708.6 716.2,722.8 701.9,722.8" fill="#459634"/>
<polygon points="715.6,707.5 722.8,721.7 708.5,721.7" fill="#459634"/>
<polygon points="722.1,707.2 729.3,721.4 715.0,721.4" fill="#459634"/>
<polygon points="728.7,707.9 735.9,722.1 721.6,722.1" fill="#459634"/>
<polygon points="735.2,708.8 742.4,723.0 728.1,723.0" fill="#459634"/>
<polygon points="741.8,708.1 748.9,722.3 734.6,722.3" fill="#459634"/>
<polygon points="748.4,706.6 755.5,720.8 741.2,720.8" fill="#459634"/>
<polygon points="754.9,707.1 762.0,721.3 747.8,721.3" fill="#459634"/>
<polygon points="761.5,707.7 768.6,721.9 754.3,721.9" fill="#459634"/>
<polygon points="768.0,708.0 775.1,722.2 760.9,722.2" fill="#459634"/>
<polygon points="774.5,708.1 781.7,722.3 767.4,722.3" fill="#459634"/>
<polygon points="781.1,707.1 788.2,721.3 774.0,721.3" fill="#459634"/>
<polygon points="787.6,706.3 794.8,720.5 780.5,720.5" fill="#459634"/>
<polygon points="794.2,707.1 801.4,721.3 787.1,721.3" fill="#459634"/>
<polygon points="800.8,707.6 807.9,721.8 793.6,721.8" fill="#459634"/>
<polygon points="807.3,706.2 814.4,720.4 800.1,720.4" fill="#459634"/>
<polygon points="813.9,706.7 821.0,720.9 806.7,720.9" fill="#459634"/>
<polygon points="820.4,707.2 827.5,721.4 813.2,721.4" fill="#459634"/>
<polygon points="827.0,706.0 834.1,720.2 819.8,720.2" fill="#459634"/>
<polygon points="833.5,705.6 840.6,719.8 826.4,719.8" fill="#459634"/>
<polygon points="840.0,705.1 847.2,719.3 832.9,719.3" fill="#459634"/>
<polygon points="847.5,704.2 854.6,718.4 840.4,718.4" fill="#459634"/>
<polygon points="854.3,705.2 861.4,719.4 847.1,719.4" fill="#459634"/>
<polygon points="860.5,705.7 867.6,719.9 853.4,719.9" fill="#459634"/>
<polygon points="866.7,705.7 873.9,719.9 859.6,719.9" fill="#459634"/>
<polygon points="874.4,706.2 881.5,720.4 867.2,720.4" fill="#459634"/>
<polygon points="880.6,706.7 887.8,720.9 873.5,720.9" fill="#459634"/>
<polygon points="887.5,709.2 894.6,723.4 880.4,723.4" fill="#459634"/>
<polygon points="893.5,709.7 900.6,723.9 886.4,723.9" fill="#459634"/>
<polygon points="900.3,708.7 907.4,722.9 893.1,722.9" fill="#459634"/>
<polygon points="905.9,707.4 913.0,721.6 898.8,721.6" fill="#459634"/>
<polygon points="912.8,708.4 919.9,722.6 905.6,722.6" fill="#459634"/>
<polygon points="919.8,711.0 926.9,725.2 912.6,725.2" fill="#459634"/>
<polygon points="926.7,708.4 933.9,722.6 919.6,722.6" fill="#459634"/>
<polygon points="932.6,708.4 939.8,722.6 925.5,722.6" fill="#459634"/>
<polygon points="939.5,707.2 946.6,721.4 932.4,721.4" fill="#459634"/>
<polygon points="944.9,702.6 952.0,716.8 937.8,716.8" fill="#459634"/>
<polygon points="952.4,704.2 959.5,718.4 945.2,718.4" fill="#459634"/>
<polygon points="960.9,705.2 968.0,719.4 953.8,719.4" fill="#459634"/>
</g>
<g id="labels" font-family="'Liberation Sans', sans-serif" fill="#2b2b2b">
<text transform="translate(234.6,22.8) scale(1.003,1)" font-size="26.7" text-anchor="middle" >Homozygous Wild-type</text>
<text transform="translate(538,22.8) scale(1.003,1)" font-size="26.7" text-anchor="middle" >Heterozygote</text>
<text transform="translate(841.8,22.8) scale(1.003,1)" font-size="26.7" text-anchor="middle" >Homozygous Mutant</text>
<text transform="translate(92.1,446.4) scale(0.857,1)" font-size="26.3" text-anchor="end" stroke="#2b2b2b" stroke-width="0.45">1.0</text>
<text transform="translate(92.1,504.8) scale(0.905,1)" font-size="26.3" text-anchor="end" stroke="#2b2b2b" stroke-width="0.45">0.8</text>
<text transform="translate(92.1,564.0) scale(0.89,1)" font-size="26.3" text-anchor="end" stroke="#2b2b2b" stroke-width="0.45">0.6</text>
<text transform="translate(91.8,622.6) scale(0.89,1)" font-size="26.3" text-anchor="end" stroke="#2b2b2b" stroke-width="0.45">0.4</text>
<text transform="translate(92.1,678.0) scale(0.905,1)" font-size="26.3" text-anchor="end" stroke="#2b2b2b" stroke-width="0.45">0.2</text>
<text transform="translate(90.4,737.5) scale(0.91,1)" font-size="26.3" text-anchor="end" stroke="#2b2b2b" stroke-width="0.45">0.0</text>
<text transform="translate(175.7,797.8) scale(0.857,1)" font-size="26.3" text-anchor="middle" stroke="#2b2b2b" stroke-width="0.45">10</text>
<text transform="translate(239.4,797.8) scale(0.857,1)" font-size="26.3" text-anchor="middle" stroke="#2b2b2b" stroke-width="0.45">20</text>
<text transform="translate(301.4,797.8) scale(0.857,1)" font-size="26.3" text-anchor="middle" stroke="#2b2b2b" stroke-width="0.45">30</text>
<text transform="translate(367.6,797.8) scale(0.857,1)" font-size="26.3" text-anchor="middle" stroke="#2b2b2b" stroke-width="0.45">40</text>
<text transform="translate(464.9,797.8) scale(0.857,1)" font-size="26.3" text-anchor="middle" stroke="#2b2b2b" stroke-width="0.45">10</text>
<text transform="translate(530.3,797.8) scale(0.857,1)" font-size="26.3" text-anchor="middle" stroke="#2b2b2b" stroke-width="0.45">20</text>
<text transform="translate(594.8,797.8) scale(0.857,1)" font-size="26.3" text-anchor="middle" stroke="#2b2b2b" stroke-width="0.45">30</text>
<text transform="translate(663.0,797.8) scale(0.857,1)" font-size="26.3" text-anchor="middle" stroke="#2b2b2b" stroke-width="0.45">40</text>
<text transform="translate(761.0,797.8) scale(0.857,1)" font-size="26.3" text-anchor="middle" stroke="#2b2b2b" stroke-width="0.45">10</text>
<text transform="translate(827.0,797.8) scale(0.857,1)" font-size="26.3" text-anchor="middle" stroke="#2b2b2b" stroke-width="0.45">20</text>
<text transform="translate(891,797.8) scale(0.857,1)" font-size="26.3" text-anchor="middle" stroke="#2b2b2b" stroke-width="0.45">30</text>
<text transform="translate(957.0,797.8) scale(0.857,1)" font-size="26.3" text-anchor="middle" stroke="#2b2b2b" stroke-width="0.45">40</text>
<text transform="translate(552.7,845.6) scale(1.002,1)" font-size="26.8" text-anchor="middle" >Thermal Cycles</text>
<text transform="translate(27.6,577.5) rotate(-90) scale(0.985,1)" font-size="27.3" text-anchor="middle">Fluorescence</text>
</g>
<g id="captions" font-family="'Liberation Serif', 'Noto Serif CJK SC', serif" font-weight="bold" fill="#000">
<text x="500.1" y="891.1" font-size="24.7" text-anchor="middle" font-weight="600" letter-spacing="1.2">分子信标法检测原理</text>
<text x="502.7" y="926.1" font-size="21.62" text-anchor="middle" ><tspan font-weight="600">图片来源<tspan dx="-2.3">：</tspan></tspan><tspan dx="1.8">http://2011.igem.org/File:Bielefeld-Germany-2011_MolecularBeacon_SNP2.png</tspan></text>
</g>
</svg>
</body>
</html>
